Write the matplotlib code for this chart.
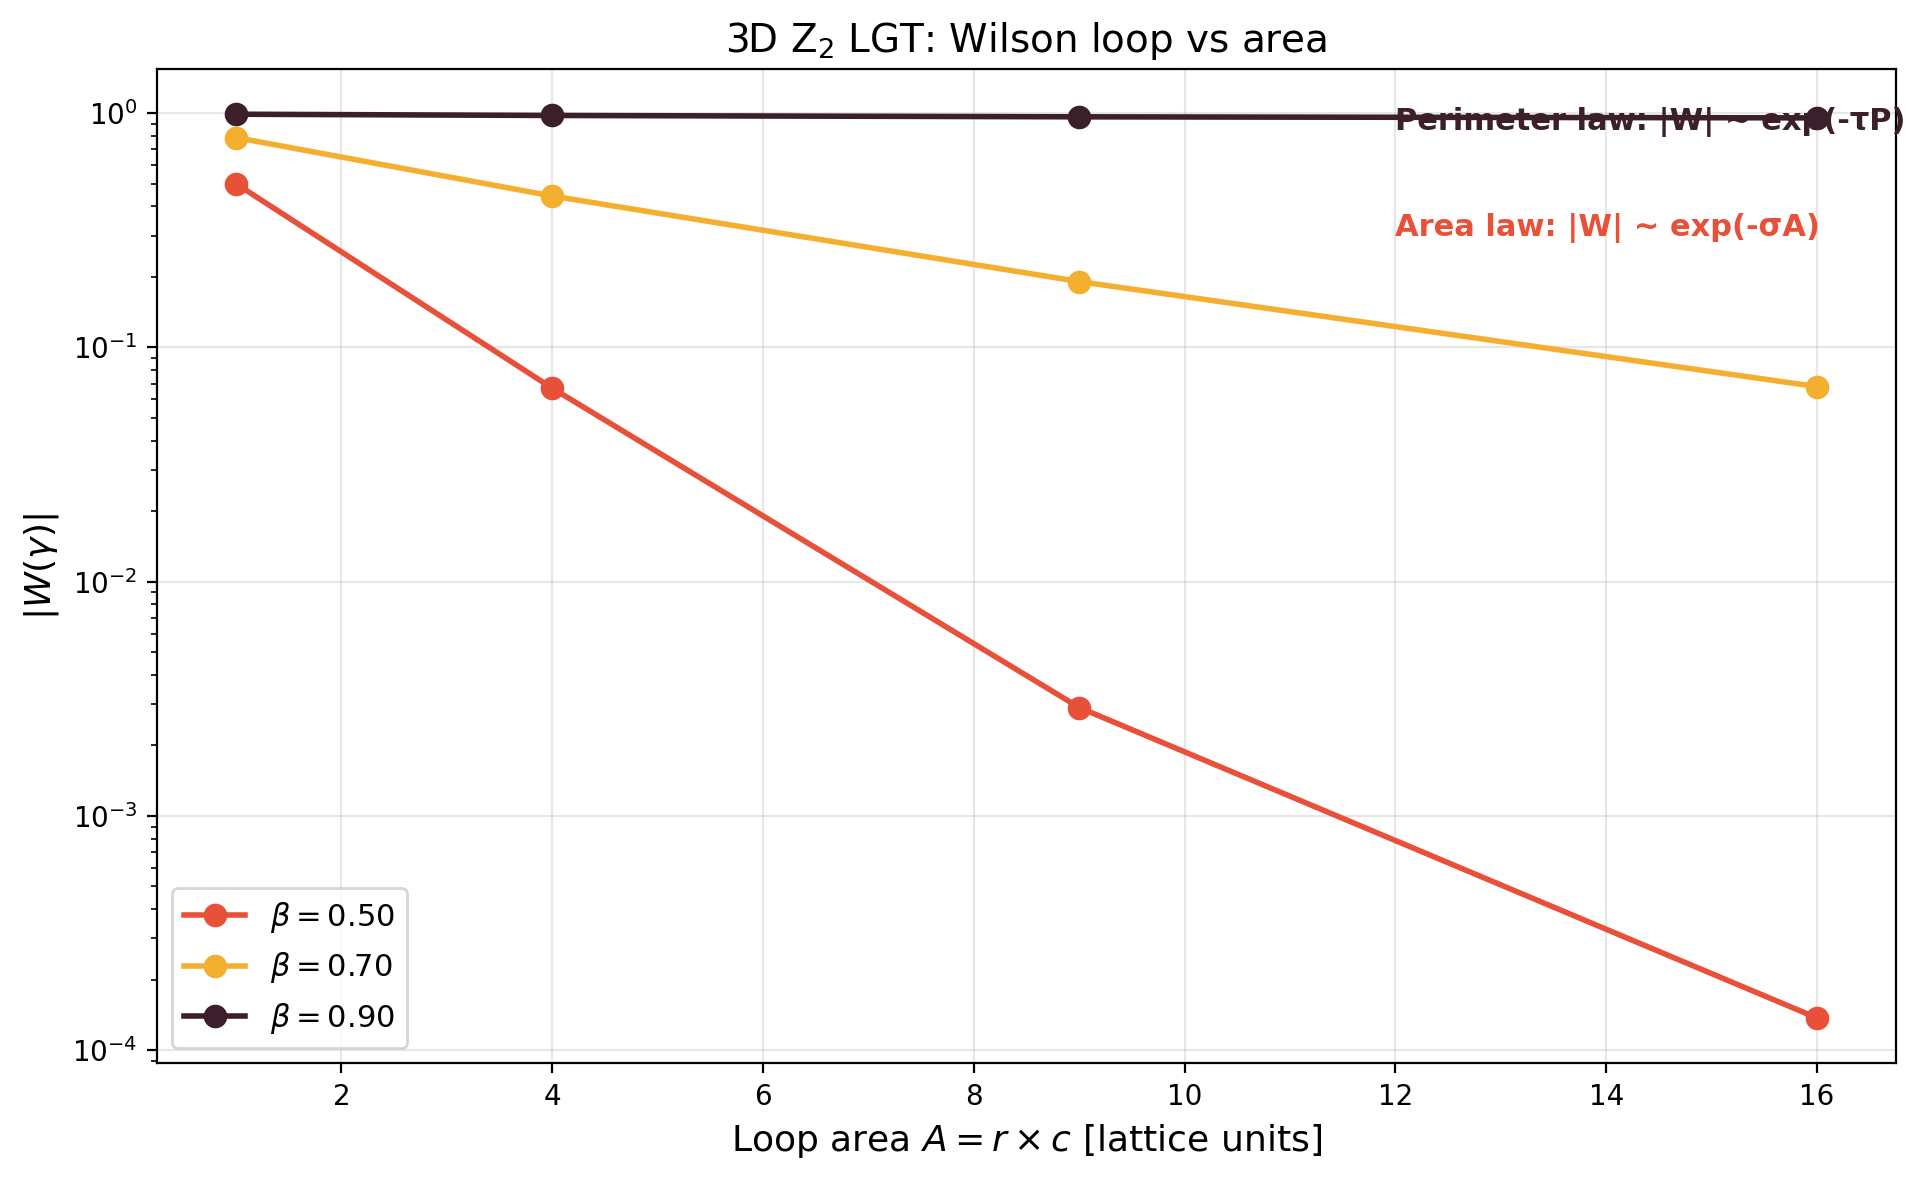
import matplotlib
matplotlib.use("Agg")
import matplotlib.pyplot as plt

areas = [1, 4, 9, 16]
betas = [0.50, 0.70, 0.90]
w_b050 = [0.50, 0.067, 0.0029, 1.37e-4]
w_b070 = [0.787, 0.443, 0.191, 0.068]
w_b090 = [0.99, 0.978, 0.965, 0.955]
colors = ["#E8503A", "#F5AF2E", "#3B1F2B"]

fig, ax = plt.subplots(figsize=(9.625, 5.9), dpi=200)

for b, w, c in zip(betas, [w_b050, w_b070, w_b090], colors):
    ax.plot(areas, w, "o-", color=c, lw=2, ms=7.5, label=r"$\beta = %.2f$" % b)

ax.set_yscale("log")
ax.set_xlabel(r"Loop area $A = r \times c$ [lattice units]", fontsize=13)
ax.set_ylabel(r"$|W(\gamma)|$", fontsize=13)
ax.set_title(r"3D Z$_2$ LGT: Wilson loop vs area", fontsize=14)
ax.grid(True, alpha=0.3)
ax.legend(fontsize=11, loc="lower left")

ax.text(12, 0.85, "Perimeter law: |W| ~ exp(-τP)", color=colors[2],
        fontsize=11, fontweight="bold")
ax.text(12, 0.3, "Area law: |W| ~ exp(-σA)", color=colors[0],
        fontsize=11, fontweight="bold")

plt.subplots_adjust(left=0.0815, right=0.985, top=0.9415, bottom=0.099)
plt.savefig("out.png")
